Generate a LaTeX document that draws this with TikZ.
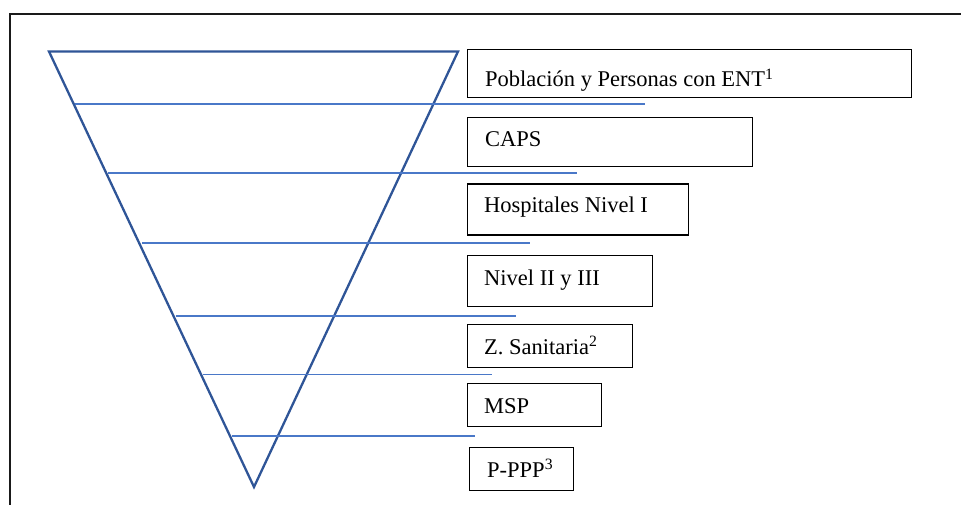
\documentclass[tikz,border=0pt]{standalone}
\usepackage{fontspec}
\setmainfont{Liberation Serif}
\definecolor{frameblk}{HTML}{1A1A1A}
\definecolor{cone}{HTML}{2F5597}
\definecolor{tier}{HTML}{4A78C8}
\tikzset{
  framebar/.style={draw=frameblk, line width=2pt},
  conebar/.style={draw=cone, line width=2.3pt, line join=miter},
  tierline/.style={draw=tier, line width=1.3pt},
  levelbox/.style={draw=black, line width=1.3pt, rectangle, inner sep=0pt, anchor=north west},
  levellbl/.style={anchor=base west, inner sep=0pt, font=\fontsize{22.5}{26}\selectfont}
}
\begin{document}
\begin{tikzpicture}[x=1pt, y=-1pt]
\useasboundingbox (0,0) rectangle (961,505);

% outer frame (top and left edges)
\draw[framebar] (9.5,505) -- (9.5,14.5) -- (961,14.5);

% inverted cone
\coordinate (tl) at (49,51.5);
\coordinate (tr) at (458,51.5);
\coordinate (apex) at (254,487);
\draw[conebar] (tl) -- (tr) -- (apex) -- cycle;

% tier separators, from the left side of the cone to the right
\draw[tierline] (74.5,104) -- (645,104);
\draw[tierline] (108,173) -- (577,173);
\draw[tierline] (142,243) -- (530,243);
\draw[tierline] (175.5,316) -- (516,316);
\draw[tierline] (203,374.5) -- (492,374.5);
\draw[tierline] (232,436) -- (475,436);

% level boxes
\node[levelbox, minimum width=444, minimum height=48] (b1) at (467,49) {};
\node[levelbox, minimum width=285, minimum height=49] (b2) at (467,117) {};
\node[levelbox, minimum width=221, minimum height=51] (b3) at (467,183.5) {};
\node[levelbox, minimum width=185, minimum height=51] (b4) at (467,254.5) {};
\node[levelbox, minimum width=165, minimum height=43] (b5) at (467,324) {};
\node[levelbox, minimum width=134, minimum height=43] (b6) at (467,383) {};
\node[levelbox, minimum width=104, minimum height=43] (b7) at (469,447) {};

% labels
\node[levellbl] (t1) at (485,87) {Población y Personas con ENT\textsuperscript{1}};
\node[levellbl] (t2) at (485,147) {CAPS};
\node[levellbl] (t3) at (484,213) {Hospitales Nivel I};
\node[levellbl] (t4) at (484,285) {Nivel II y III};
\node[levellbl] (t5) at (484,354) {Z. Sanitaria\textsuperscript{2}};
\node[levellbl] (t6) at (484,413) {MSP};
\node[levellbl] (t7) at (487,477) {P-PPP\textsuperscript{3}};
\end{tikzpicture}
\end{document}
